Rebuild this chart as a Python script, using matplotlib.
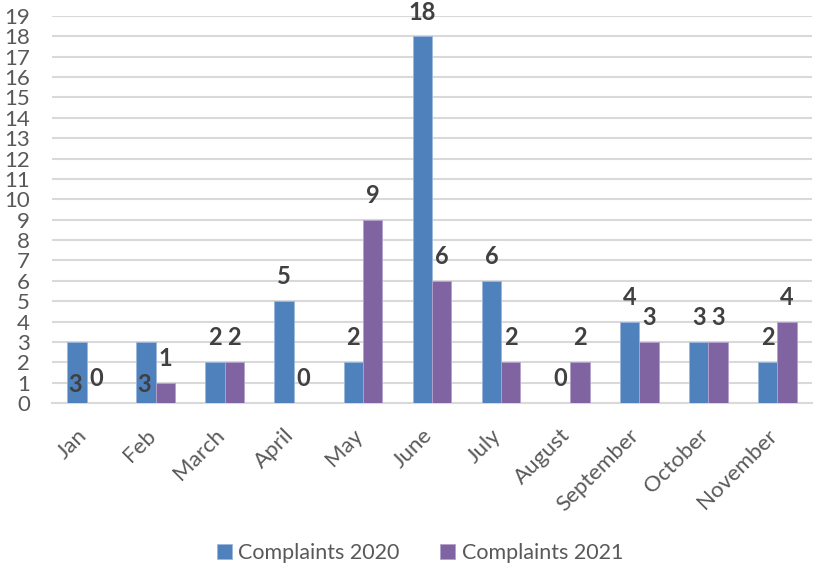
import numpy as np
import matplotlib
matplotlib.use('Agg')
import matplotlib.pyplot as plt
from matplotlib.transforms import ScaledTranslation

# monthly complaint counts
months = ['Jan', 'Feb', 'March', 'April', 'May', 'June', 'July',
          'August', 'September', 'October', 'November']
complaints_2020 = [3, 3, 2, 5, 2, 18, 6, 0, 4, 3, 2]
complaints_2021 = [0, 1, 2, 0, 9, 6, 2, 2, 3, 3, 4]
yticks = list(range(0, 20))

# months where the 2020 label sits at the foot of the bar
label_inside_2020 = ['Jan', 'Feb']

plt.rcParams['font.family'] = ['Lato', 'DejaVu Sans']

blue = '#4F81BD'
purple = '#8064A2'
label_col = '#404040'
tick_col = '#595959'
fs = 16
lfs = 17

fig = plt.figure(figsize=(8.17, 5.71), dpi=100)
ax = fig.add_axes([52/817, 1 - 403/571, 760/817, 387/571])

x = np.arange(len(months))
w = 0.28
b1 = ax.bar(x - w/2, complaints_2020, w, color=blue, edgecolor='#9DB7D9',
            linewidth=0.6, label='Complaints 2020', zorder=3)
b2 = ax.bar(x + w/2, complaints_2021, w, color=purple, edgecolor='#B3A2CB',
            linewidth=0.6, label='Complaints 2021', zorder=3)

# data labels
for i, m in enumerate(months):
    v = complaints_2020[i]
    if m in label_inside_2020:
        ax.annotate(str(v), (x[i] - w/2, 0), xytext=(-1, 13.5), textcoords='offset points',
                    ha='center', va='center', fontsize=lfs, fontweight='bold', color=label_col, zorder=4)
    else:
        ax.annotate(str(v), (x[i] - w/2, v), xytext=(0, 17.5), textcoords='offset points',
                    ha='center', va='center', fontsize=lfs, fontweight='bold', color=label_col, zorder=4)
    v = complaints_2021[i]
    ax.annotate(str(v), (x[i] + w/2, v), xytext=(0, 17.5), textcoords='offset points',
                ha='center', va='center', fontsize=lfs, fontweight='bold', color=label_col, zorder=4)

ax.set_xlim(-0.5, len(months) - 0.5)
ax.set_ylim(0, 19)
ax.set_yticks(yticks)
ax.set_yticklabels([str(t) for t in yticks], fontsize=fs, color=tick_col)
ax.set_xticks(x)
ax.set_xticklabels(months, rotation=45, ha='right', fontsize=fs, color=tick_col)
ax.tick_params(axis='y', length=0, pad=16)
ax.tick_params(axis='x', length=0, pad=16)
shift = ScaledTranslation(4/100, 0, fig.dpi_scale_trans)
for lab in ax.get_xticklabels():
    lab.set_transform(lab.get_transform() + shift)

ax.grid(axis='y', color='#D9D9D9', linewidth=1.5, zorder=0)
ax.set_axisbelow(True)
for s in ['top', 'right', 'left']:
    ax.spines[s].set_visible(False)
ax.spines['bottom'].set_color('#D9D9D9')
ax.spines['bottom'].set_linewidth(1.5)

leg = fig.legend(handles=[b1, b2], loc='center', bbox_to_anchor=(0.514, 0.031), ncol=2,
                 frameon=False, fontsize=15.5, handlelength=0.7, handleheight=0.7,
                 handletextpad=0.3, columnspacing=1.9)
for t in leg.get_texts():
    t.set_color(tick_col)

fig.savefig('out.png', dpi=100)
